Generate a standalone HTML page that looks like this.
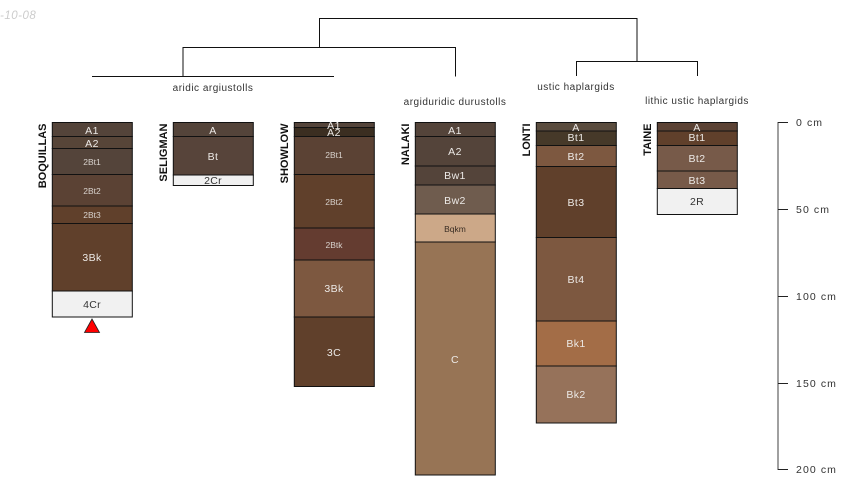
<!DOCTYPE html>
<html><head><meta charset="utf-8"><style>
html,body{margin:0;padding:0;background:#fff}
svg{display:block}
text{font-family:"Liberation Sans",sans-serif}
.c{text-anchor:middle;font-size:10.5px;fill:#ece9e6;letter-spacing:.4px}
.s{text-anchor:middle;font-size:8.5px;fill:#d8d2cd}
.d{text-anchor:middle;font-size:10.5px;fill:#333;letter-spacing:.3px}
.l{text-anchor:middle;font-size:10px;fill:#333;letter-spacing:.5px}
.n{font-size:11px;font-weight:bold;fill:#111;text-anchor:end}
.a{font-size:10.5px;fill:#333;letter-spacing:1.1px}
rect{stroke:#111;stroke-width:1}
.p{transform:translateX(-.2px)}
</style></head><body>
<svg width="850" height="500" viewBox="0 0 850 500" xmlns="http://www.w3.org/2000/svg">
<text x="0" y="19" font-size="11.5" font-style="italic" fill="#ccc" letter-spacing=".5">-10-08</text>

<g fill="none" stroke="#111" stroke-width="1">
<path d="M183 76.5V47.5H455.5V76.5"/>
<path d="M319.5 47.5V18.5H637V62"/>
<path d="M576.5 76V61.5H697.5V76"/>
<path d="M92 76.5H334"/>
</g>
<text class="l" x="213" y="91">aridic argiustolls</text>
<text class="l" x="455" y="105">argiduridic durustolls</text>
<text class="l" x="576" y="90">ustic haplargids</text>
<text class="l" x="697" y="104">lithic ustic haplargids</text>

<!-- BOQUILLAS -->
<g class="p">
<rect x="52.5" y="122.5" width="80" height="14" fill="#54443a"/>
<rect x="52.5" y="136.5" width="80" height="12" fill="#574538"/>
<rect x="52.5" y="148.5" width="80" height="26" fill="#54443a"/>
<rect x="52.5" y="174.5" width="80" height="31.5" fill="#5b4234"/>
<rect x="52.5" y="206" width="80" height="17.5" fill="#60402b"/>
<rect x="52.5" y="223.5" width="80" height="67.5" fill="#60402b"/>
<rect x="52.5" y="291" width="80" height="26" fill="#f1f1f1" stroke="#555"/>
</g>
<text class="c" x="92" y="134">A1</text>
<text class="c" x="92" y="147">A2</text>
<text class="s" x="92" y="165">2Bt1</text>
<text class="s" x="92" y="194">2Bt2</text>
<text class="s" x="92" y="218">2Bt3</text>
<text class="c" x="92" y="261">3Bk</text>
<text class="d" x="92" y="308">4Cr</text>
<polygon points="92,319 84.5,332.5 99.5,332.5" fill="#f00" stroke="#222" stroke-width="0.8"/>
<text class="n" transform="translate(46,123.5) rotate(-90)">BOQUILLAS</text>

<!-- SELIGMAN -->
<g class="p">
<rect x="173.5" y="122.5" width="80" height="14" fill="#54443a"/>
<rect x="173.5" y="136.5" width="80" height="38.5" fill="#57443a"/>
<rect x="173.5" y="175" width="80" height="10.5" fill="#f1f1f1" stroke="#555"/>
</g>
<text class="c" x="213" y="134">A</text>
<text class="c" x="213" y="160">Bt</text>
<text class="d" x="213" y="184">2Cr</text>
<text class="n" transform="translate(167,123.5) rotate(-90)">SELIGMAN</text>

<!-- SHOWLOW -->
<g class="p">
<rect x="294.5" y="122.5" width="80" height="5" fill="#54443a"/>
<rect x="294.5" y="127.5" width="80" height="9" fill="#3b2e21"/>
<rect x="294.5" y="136.5" width="80" height="38" fill="#5b4234"/>
<rect x="294.5" y="174.5" width="80" height="53.5" fill="#60402b"/>
<rect x="294.5" y="228" width="80" height="32" fill="#643c30"/>
<rect x="294.5" y="260" width="80" height="57" fill="#7d5840"/>
<rect x="294.5" y="317" width="80" height="69.5" fill="#60402b"/>
</g>
<text class="c" x="334" y="129">A1</text>
<text class="c" x="334" y="136">A2</text>
<text class="s" x="334" y="158">2Bt1</text>
<text class="s" x="334" y="205">2Bt2</text>
<text class="s" x="334" y="248">2Btk</text>
<text class="c" x="334" y="292">3Bk</text>
<text class="c" x="334" y="356">3C</text>
<text class="n" transform="translate(288,123.5) rotate(-90)">SHOWLOW</text>

<!-- NALAKI -->
<g class="p">
<rect x="415.5" y="122.5" width="80" height="14" fill="#54443a"/>
<rect x="415.5" y="136.5" width="80" height="29.5" fill="#54443a"/>
<rect x="415.5" y="166" width="80" height="19" fill="#54443a"/>
<rect x="415.5" y="185" width="80" height="29" fill="#6f5c4e"/>
<rect x="415.5" y="214" width="80" height="28" fill="#cca888"/>
<rect x="415.5" y="242" width="80" height="233" fill="#977455" stroke="#333"/>
</g>
<text class="c" x="455" y="134">A1</text>
<text class="c" x="455" y="155">A2</text>
<text class="c" x="455" y="179">Bw1</text>
<text class="c" x="455" y="204">Bw2</text>
<text class="s" x="455" y="232" style="fill:#3a2e24">Bqkm</text>
<text class="c" x="455" y="363">C</text>
<text class="n" transform="translate(409,123.5) rotate(-90)">NALAKI</text>

<!-- LONTI -->
<g class="p">
<rect x="536.5" y="122.5" width="80" height="8.5" fill="#5a4c3e"/>
<rect x="536.5" y="131" width="80" height="14.5" fill="#463929"/>
<rect x="536.5" y="145.5" width="80" height="21" fill="#7d5840"/>
<rect x="536.5" y="166.5" width="80" height="71" fill="#60402b"/>
<rect x="536.5" y="237.5" width="80" height="83.5" fill="#7d5840"/>
<rect x="536.5" y="321" width="80" height="45" fill="#a36d47"/>
<rect x="536.5" y="366" width="80" height="57" fill="#96725a" stroke="#333"/>
</g>
<text class="c" x="576" y="131">A</text>
<text class="c" x="576" y="141">Bt1</text>
<text class="c" x="576" y="160">Bt2</text>
<text class="c" x="576" y="206">Bt3</text>
<text class="c" x="576" y="283">Bt4</text>
<text class="c" x="576" y="347">Bk1</text>
<text class="c" x="576" y="398">Bk2</text>
<text class="n" transform="translate(530,123.5) rotate(-90)">LONTI</text>

<!-- TAINE -->
<g class="p">
<rect x="657.5" y="122.5" width="80" height="8.5" fill="#5b4234"/>
<rect x="657.5" y="131" width="80" height="14.5" fill="#60402b"/>
<rect x="657.5" y="145.5" width="80" height="25.5" fill="#775a49"/>
<rect x="657.5" y="171" width="80" height="17.5" fill="#775a49"/>
<rect x="657.5" y="188.5" width="80" height="26" fill="#f1f1f1" stroke="#333"/>
</g>
<text class="c" x="697" y="131">A</text>
<text class="c" x="697" y="141">Bt1</text>
<text class="c" x="697" y="162">Bt2</text>
<text class="c" x="697" y="184">Bt3</text>
<text class="d" x="697" y="205">2R</text>
<text class="n" transform="translate(651,123.5) rotate(-90)">TAINE</text>

<!-- depth axis -->
<g fill="none" stroke="#222" stroke-width="1">
<path d="M778 122V470" stroke="#777" stroke-width="1.4"/>
<path d="M778 122.5H788M778 209.5H788M778 296.5H788M778 383.5H788M778 469.5H788"/>
</g>
<text class="a" x="796" y="126">0 cm</text>
<text class="a" x="796" y="213">50 cm</text>
<text class="a" x="796" y="300">100 cm</text>
<text class="a" x="796" y="387">150 cm</text>
<text class="a" x="796" y="473">200 cm</text>
</svg>
</body></html>
